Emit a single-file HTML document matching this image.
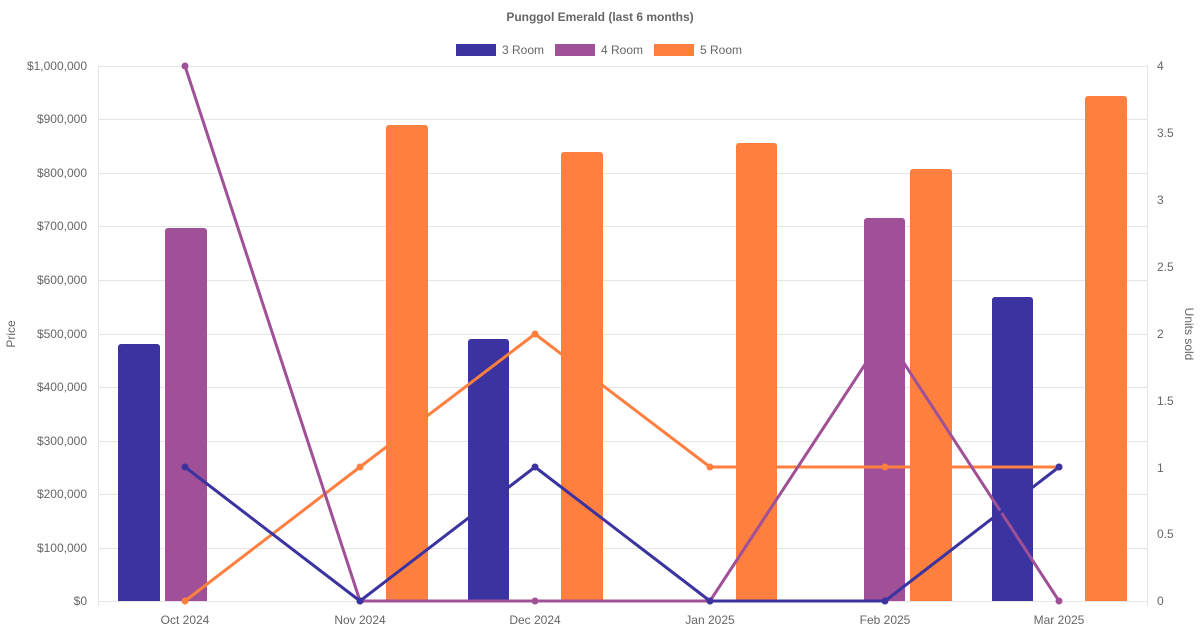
<!DOCTYPE html>
<html><head><meta charset="utf-8"><style>
html,body{margin:0;padding:0;background:#fff;}
svg{display:block;font-family:"Liberation Sans",Arial,sans-serif;}
</style></head><body>
<svg width="1200" height="630" viewBox="0 0 1200 630" xmlns="http://www.w3.org/2000/svg">
<text x="600" y="21" text-anchor="middle" font-size="12" font-weight="bold" fill="#666">Punggol Emerald (last 6 months)</text>
<rect x="456" y="44" width="40" height="12" fill="#3a33a0"/><text x="502" y="54" font-size="12" fill="#666">3 Room</text>
<rect x="555" y="44" width="40" height="12" fill="#9f5096"/><text x="601" y="54" font-size="12" fill="#666">4 Room</text>
<rect x="654" y="44" width="40" height="12" fill="#ff7f3f"/><text x="700" y="54" font-size="12" fill="#666">5 Room</text>
<g stroke="#e5e5e5" stroke-width="1">
<line x1="98" y1="66.5" x2="1147" y2="66.5"/><line x1="98" y1="119.5" x2="1147" y2="119.5"/><line x1="98" y1="173.5" x2="1147" y2="173.5"/><line x1="98" y1="226.5" x2="1147" y2="226.5"/><line x1="98" y1="280.5" x2="1147" y2="280.5"/><line x1="98" y1="334.5" x2="1147" y2="334.5"/><line x1="98" y1="387.5" x2="1147" y2="387.5"/><line x1="98" y1="441.5" x2="1147" y2="441.5"/><line x1="98" y1="494.5" x2="1147" y2="494.5"/><line x1="98" y1="548.5" x2="1147" y2="548.5"/><line x1="98" y1="601.5" x2="1147" y2="601.5"/>
<line x1="98.5" y1="66" x2="98.5" y2="606"/><line x1="1147.5" y1="66" x2="1147.5" y2="606"/>
</g>
<g font-size="12" fill="#666" text-anchor="end">
<text x="87" y="70">$1,000,000</text><text x="87" y="123">$900,000</text><text x="87" y="177">$800,000</text><text x="87" y="230">$700,000</text><text x="87" y="284">$600,000</text><text x="87" y="338">$500,000</text><text x="87" y="391">$400,000</text><text x="87" y="445">$300,000</text><text x="87" y="498">$200,000</text><text x="87" y="552">$100,000</text><text x="87" y="605">$0</text>
</g>
<g font-size="12" fill="#666">
<text x="1157" y="70">4</text><text x="1157" y="137">3.5</text><text x="1157" y="204">3</text><text x="1157" y="271">2.5</text><text x="1157" y="338">2</text><text x="1157" y="405">1.5</text><text x="1157" y="472">1</text><text x="1157" y="538">0.5</text><text x="1157" y="605">0</text>
</g>
<g font-size="12" fill="#666" text-anchor="middle">
<text x="185" y="624">Oct 2024</text><text x="360" y="624">Nov 2024</text><text x="535" y="624">Dec 2024</text><text x="710" y="624">Jan 2025</text><text x="885" y="624">Feb 2025</text><text x="1059" y="624">Mar 2025</text>
</g>
<text transform="translate(15,334) rotate(-90)" font-size="12" fill="#666" text-anchor="middle">Price</text>
<text transform="translate(1185,334) rotate(90)" font-size="12" fill="#666" text-anchor="middle">Units sold</text>
<g>
<path d="M118,601 V347 a3,3 0 0 1 3,-3 H157 a3,3 0 0 1 3,3 V601Z" fill="#3a33a0"/>
<path d="M165,601 V231 a3,3 0 0 1 3,-3 H204 a3,3 0 0 1 3,3 V601Z" fill="#9f5096"/>
<path d="M386,601 V128 a3,3 0 0 1 3,-3 H425 a3,3 0 0 1 3,3 V601Z" fill="#ff7f3f"/>
<path d="M468,601 V342 a3,3 0 0 1 3,-3 H506 a3,3 0 0 1 3,3 V601Z" fill="#3a33a0"/>
<path d="M561,601 V155 a3,3 0 0 1 3,-3 H600 a3,3 0 0 1 3,3 V601Z" fill="#ff7f3f"/>
<path d="M736,601 V146 a3,3 0 0 1 3,-3 H774 a3,3 0 0 1 3,3 V601Z" fill="#ff7f3f"/>
<path d="M864,601 V221 a3,3 0 0 1 3,-3 H902 a3,3 0 0 1 3,3 V601Z" fill="#9f5096"/>
<path d="M910,601 V172 a3,3 0 0 1 3,-3 H949 a3,3 0 0 1 3,3 V601Z" fill="#ff7f3f"/>
<path d="M992,601 V300 a3,3 0 0 1 3,-3 H1030 a3,3 0 0 1 3,3 V601Z" fill="#3a33a0"/>
<path d="M1085,601 V99 a3,3 0 0 1 3,-3 H1124 a3,3 0 0 1 3,3 V601Z" fill="#ff7f3f"/>
</g>
<g fill="none" stroke-width="3" stroke-linejoin="round">
<polyline points="185,601 360,467 535,334 710,467 885,467 1059,467" stroke="#ff7f3f"/>
<polyline points="185,66 360,601 535,601 710,601 885,334 1059,601" stroke="#9f5096"/>
<polyline points="185,467 360,601 535,467 710,601 885,601 1059,467" stroke="#3a33a0"/>
</g>
<g fill="#ff7f3f"><circle cx="185" cy="601" r="3.5"/><circle cx="360" cy="467" r="3.5"/><circle cx="535" cy="334" r="3.5"/><circle cx="710" cy="467" r="3.5"/><circle cx="885" cy="467" r="3.5"/><circle cx="1059" cy="467" r="3.5"/></g>
<g fill="#9f5096"><circle cx="185" cy="66" r="3.5"/><circle cx="360" cy="601" r="3.5"/><circle cx="535" cy="601" r="3.5"/><circle cx="710" cy="601" r="3.5"/><circle cx="885" cy="334" r="3.5"/><circle cx="1059" cy="601" r="3.5"/></g>
<g fill="#3a33a0"><circle cx="185" cy="467" r="3.5"/><circle cx="360" cy="601" r="3.5"/><circle cx="535" cy="467" r="3.5"/><circle cx="710" cy="601" r="3.5"/><circle cx="885" cy="601" r="3.5"/><circle cx="1059" cy="467" r="3.5"/></g>
</svg>
</body></html>
